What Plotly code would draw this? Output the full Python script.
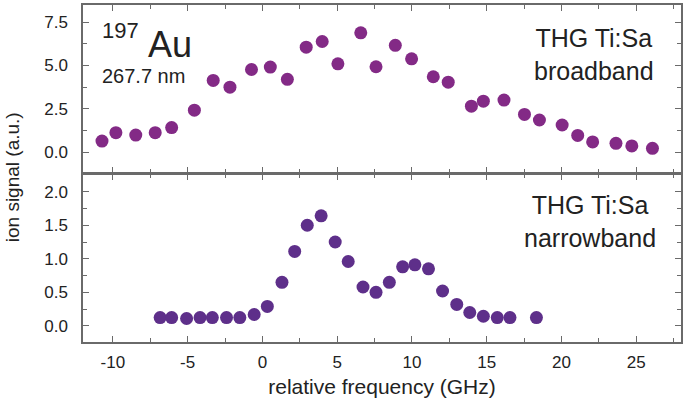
import plotly.graph_objects as go
from plotly.subplots import make_subplots

# Broadband THG Ti:Sa scan
freq_broad = [-10.73, -9.8, -8.47, -7.17, -6.07, -4.55, -3.29, -2.17, -0.73, 0.53,
              1.67, 2.93, 4.0, 5.05, 6.58, 7.6, 8.89, 9.98, 11.43, 12.43,
              13.98, 14.78, 16.16, 17.53, 18.53, 20.05, 21.09, 22.09, 23.65, 24.71, 26.09]
signal_broad = [0.63, 1.12, 0.98, 1.12, 1.41, 2.42, 4.14, 3.75, 4.77, 4.91,
                4.2, 6.06, 6.39, 5.1, 6.89, 4.93, 6.17, 5.39, 4.35, 4.04,
                2.65, 2.94, 3.0, 2.17, 1.85, 1.56, 0.96, 0.58, 0.5, 0.35, 0.21]

# Narrowband THG Ti:Sa scan
freq_narrow = [-6.84, -6.07, -5.07, -4.17, -3.35, -2.4, -1.51, -0.55, 0.33, 1.31,
               2.16, 3.0, 3.93, 4.87, 5.74, 6.73, 7.6, 8.49, 9.38, 10.2,
               11.11, 12.05, 13.0, 13.87, 14.78, 15.71, 16.56, 18.33]
signal_narrow = [0.124, 0.124, 0.11, 0.124, 0.124, 0.124, 0.124, 0.17, 0.29, 0.65,
                 1.11, 1.50, 1.64, 1.25, 0.96, 0.58, 0.50, 0.65, 0.88, 0.91,
                 0.85, 0.52, 0.32, 0.20, 0.144, 0.124, 0.124, 0.124]

x_ticks = [-10, -5, 0, 5, 10, 15, 20, 25]
x_tick_text = ["-10", "-5", "0", "5", "10", "15", "20", "25"]
top_ticks = [0.0, 2.5, 5.0, 7.5]
bottom_ticks = [0.0, 0.5, 1.0, 1.5, 2.0]

FONT = "Liberation Sans, Arial, sans-serif"
TXT = "#222222"
AX = "#6a6a6a"
LW = 1.5
PLOT_H = 337

fig = make_subplots(rows=2, cols=1, shared_xaxes=True, vertical_spacing=0)

fig.add_trace(go.Scatter(x=freq_broad, y=signal_broad, mode="markers",
                         marker=dict(size=13, color="#832a86"),
                         showlegend=False), row=1, col=1)
fig.add_trace(go.Scatter(x=freq_narrow, y=signal_narrow, mode="markers",
                         marker=dict(size=13, color="#5e2f8a"),
                         showlegend=False), row=2, col=1)

axis_common = dict(showline=True, linecolor=AX, linewidth=LW, mirror="allticks",
                   ticks="inside", ticklen=6, tickwidth=1.2, tickcolor=AX,
                   showgrid=False, zeroline=False,
                   tickfont=dict(family=FONT, size=17, color=TXT))

fig.update_xaxes(**axis_common, range=[-12, 28], tickvals=x_ticks, ticktext=x_tick_text,
                 minor=dict(ticks="inside", ticklen=4, tickcolor=AX, dtick=2.5, tick0=0))
fig.update_xaxes(showticklabels=False, row=1, col=1)
fig.update_xaxes(ticklabelstandoff=4, row=2, col=1,
                 title=dict(text="relative frequency (GHz)", standoff=8,
                            font=dict(family=FONT, size=21, color=TXT)))

fig.update_yaxes(**axis_common, ticklabelstandoff=10)
fig.update_yaxes(range=[-1.2, 8.5], tickvals=top_ticks, ticktext=["0.0", "2.5", "5.0", "7.5"],
                 minor=dict(ticks="inside", ticklen=4, tickcolor=AX, dtick=1.25, tick0=0),
                 row=1, col=1)
fig.update_yaxes(range=[-0.24, 2.26], tickvals=bottom_ticks,
                 ticktext=["0.0", "0.5", "1.0", "1.5", "2.0"],
                 minor=dict(ticks="inside", ticklen=4, tickcolor=AX, dtick=0.25, tick0=0),
                 row=2, col=1)

# the shared boundary: leave a gap of one line width so both frame lines coincide
half_gap = (LW / 2) / PLOT_H
fig.update_layout(yaxis=dict(domain=[0.5 + half_gap, 1]),
                  yaxis2=dict(domain=[0, 0.5 - half_gap]))

annotations = [
    dict(text="197", x=100, y=30, xanchor="left", size=22),
    dict(text="Au", x=146, y=44, xanchor="left", size=36),
    dict(text="267.7 nm", x=100, y=76, xanchor="left", size=20),
    dict(text="THG Ti:Sa<br>broadband", x=596, y=54, xanchor="center", size=25),
    dict(text="THG Ti:Sa<br>narrowband", x=592, y=222, xanchor="center", size=25),
]
for a in annotations:
    fig.add_annotation(text=a["text"], xref="paper", yref="paper",
                       x=(a["x"] - 83) / 600, y=(342 - a["y"]) / PLOT_H,
                       xanchor=a["xanchor"], yanchor="middle", showarrow=False,
                       align="center",
                       font=dict(family=FONT, size=a["size"], color=TXT))

fig.add_annotation(text="ion signal (a.u.)", xref="paper", yref="paper",
                   x=(12 - 83) / 600, y=(342 - 177) / PLOT_H, textangle=-90,
                   xanchor="center", yanchor="middle", showarrow=False,
                   font=dict(family=FONT, size=19, color=TXT))

fig.update_layout(width=683, height=404, margin=dict(l=83, r=0, t=5, b=62),
                  paper_bgcolor="white", plot_bgcolor="white",
                  font=dict(family=FONT, color=TXT))

fig.write_html("out.html")
